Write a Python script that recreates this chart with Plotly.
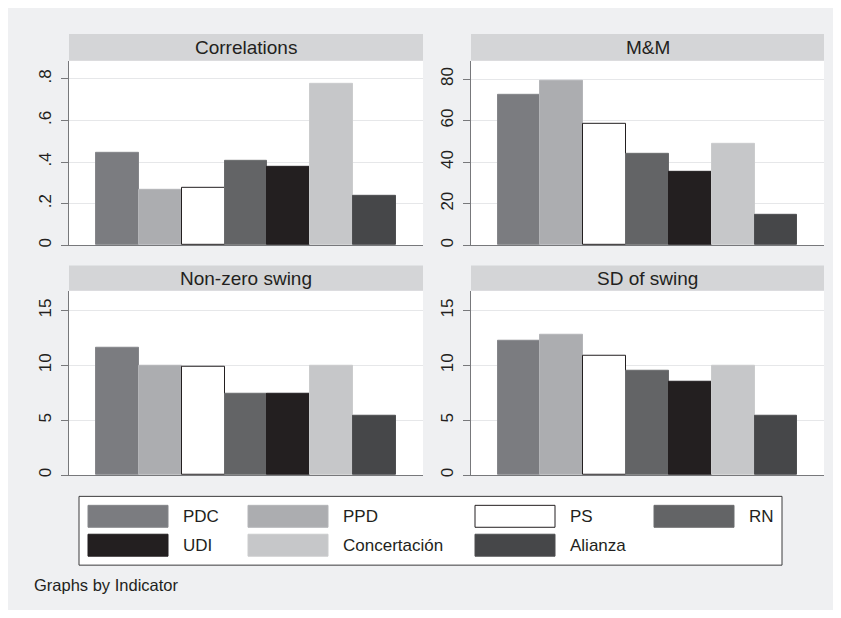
import plotly.graph_objects as go

# ---- data ----
parties = ["PDC", "PPD", "PS", "RN", "UDI", "Concertación", "Alianza"]
panel_titles = ["Correlations", "M&M", "Non-zero swing", "SD of swing"]
correlations = [0.445, 0.267, 0.275, 0.408, 0.379, 0.777, 0.240]
mm = [72.5, 79.2, 58.4, 44.0, 35.2, 48.9, 14.6]
nonzero_swing = [11.6, 10.0, 9.85, 7.4, 7.45, 10.0, 5.45]
sd_swing = [12.2, 12.8, 10.9, 9.5, 8.5, 10.0, 5.45]
panel_values = [correlations, mm, nonzero_swing, sd_swing]

tick_vals = [[0, 0.2, 0.4, 0.6, 0.8], [0, 20, 40, 60, 80], [0, 5, 10, 15], [0, 5, 10, 15]]
tick_text = [["0", ".2", ".4", ".6", ".8"], ["0", "20", "40", "60", "80"],
             ["0", "5", "10", "15"], ["0", "5", "10", "15"]]
y_max = [0.887, 88.8, 16.8, 16.8]
note = "Graphs by Indicator"

# ---- styles ----
colors = ["#7b7c80", "#acadb0", "#ffffff", "#636466", "#231f20", "#c6c7c9", "#464749"]
outline = ["#85868a", "#b4b5b8", "#231f20", "#6b6c6e", "#231f20", "#cbcccd", "#4e4f51"]
BG = "#eff0f2"
STRIP = "#d4d5d7"
GRID = "#e6e7e9"
AXIS = "#77787b"
FONT = "Liberation Sans"
# the page body adds an 8px margin, so the figure is sized to fit the window
OFF = 8
W, H = 841 - OFF, 618 - 16


def px(x):
    return (x - OFF) / W


def py(y):
    return 1 - (y - OFF) / H


# panel geometry in page pixels (left, right, top, bottom, strip top)
panels = [
    (69, 423, 61, 246, 34),
    (471, 824, 61, 246, 34),
    (69, 423, 291.7, 476.7, 266.3),
    (471, 824, 291.7, 476.7, 266.3),
]

fig = go.Figure()
shapes = []
annotations = []

for k, (l, r, t, b, st) in enumerate(panels):
    ax = "" if k == 0 else str(k + 1)
    fig.add_trace(go.Bar(
        x=list(range(len(parties))), y=panel_values[k], width=1,
        marker=dict(color=colors, line=dict(color=outline, width=1)),
        xaxis="x" + ax, yaxis="y" + ax, showlegend=False, hoverinfo="y",
    ))
    fig.layout["xaxis" + ax] = dict(
        domain=[px(l), px(r)], range=[-1.12, len(parties) + 0.12], showgrid=False,
        showticklabels=False, ticks="", zeroline=False, showline=True,
        linecolor=AXIS, linewidth=1, anchor="y" + ax, fixedrange=True,
    )
    fig.layout["yaxis" + ax] = dict(
        domain=[py(b), py(t)], range=[0, y_max[k]], tickvals=tick_vals[k],
        ticktext=tick_text[k], tickangle=-90, ticks="outside", ticklen=7,
        tickcolor=AXIS, tickwidth=1, showline=True, linecolor=AXIS, linewidth=1,
        showgrid=True, gridcolor=GRID, gridwidth=1, zeroline=False,
        tickfont=dict(family=FONT, size=17, color="#231f20"), anchor="x" + ax,
        ticklabelstandoff=3,
    )
    # strip
    shapes.append(dict(type="rect", xref="paper", yref="paper", x0=px(l), x1=px(r),
                       y0=py(t), y1=py(st), fillcolor=STRIP, line=dict(width=0)))
    annotations.append(dict(xref="paper", yref="paper", x=px((l + r) / 2), y=py((t + st) / 2),
                            text=panel_titles[k], showarrow=False, xanchor="center", yanchor="middle",
                            font=dict(family=FONT, size=19, color="#231f20")))

# legend box (drawn manually to mimic the original layout)
shapes.append(dict(type="rect", xref="paper", yref="paper", x0=px(79), x1=px(782),
                   y0=py(567), y1=py(498), fillcolor="#ffffff", line=dict(color="#3a3a3c", width=1)))
col_x = [88, 248, 475, 654]
row_y = [(507, 529), (536, 558)]
for i, name in enumerate(parties):
    row, col = divmod(i, 4)
    x0 = col_x[col]
    y0, y1 = row_y[row]
    shapes.append(dict(type="rect", xref="paper", yref="paper", x0=px(x0), x1=px(x0 + 80),
                       y0=py(y1), y1=py(y0), fillcolor=colors[i],
                       line=dict(color=outline[i], width=1)))
    annotations.append(dict(xref="paper", yref="paper", x=px(x0 + 93), y=py((y0 + y1) / 2),
                            text=name, showarrow=False, xanchor="left", yanchor="middle",
                            font=dict(family=FONT, size=17, color="#231f20")))

annotations.append(dict(xref="paper", yref="paper", x=px(32), y=py(587), text=note,
                        showarrow=False, xanchor="left", yanchor="middle",
                        font=dict(family=FONT, size=16.5, color="#231f20")))

fig.update_layout(
    width=W, height=H, margin=dict(l=0, r=0, t=0, b=0),
    paper_bgcolor=BG, plot_bgcolor="#ffffff",
    bargap=0, shapes=shapes, annotations=annotations, showlegend=False,
)

fig.write_html("out.html")
